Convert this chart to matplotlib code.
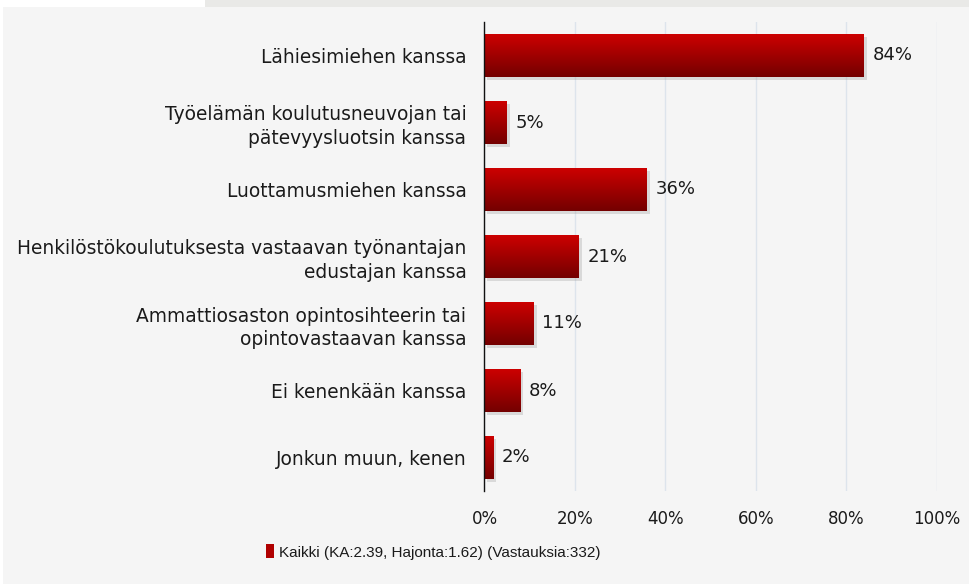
import numpy as np
import matplotlib.pyplot as plt
from matplotlib.patches import Patch, Rectangle
import matplotlib.patheffects as pe
from matplotlib.colors import LinearSegmentedColormap

plt.rcParams['font.family'] = ['DejaVu Sans']

# data
categories = [
    'Lähiesimiehen kanssa',
    'Työelämän koulutusneuvojan tai\npätevyysluotsin kanssa',
    'Luottamusmiehen kanssa',
    'Henkilöstökoulutuksesta vastaavan työnantajan\nedustajan kanssa',
    'Ammattiosaston opintosihteerin tai\nopintovastaavan kanssa',
    'Ei kenenkään kanssa',
    'Jonkun muun, kenen',
]
values = [84, 5, 36, 21, 11, 8, 2]
xticks = [0, 20, 40, 60, 80, 100]
legend_label = 'Kaikki (KA:2.39, Hajonta:1.62) (Vastauksia:332)'

bg = '#f5f5f5'
txt = '#1a1a1a'
grad = LinearSegmentedColormap.from_list('bar', ['#cc0000', '#740000'])

fig = plt.figure(figsize=(9.7, 5.84), dpi=100)
fig.patch.set_facecolor(bg)

# white strips top-left / left and grey band on top
fig.patches.append(Rectangle((0, 1 - 7 / 584), 1, 7 / 584, transform=fig.transFigure,
                             facecolor='#e9e9e7', edgecolor='none', zorder=0))
fig.patches.append(Rectangle((0, 1 - 7 / 584), 205 / 970, 7 / 584, transform=fig.transFigure,
                             facecolor='white', edgecolor='none', zorder=1))
fig.patches.append(Rectangle((0, 0), 3 / 970, 1, transform=fig.transFigure,
                             facecolor='white', edgecolor='none', zorder=1))

ax = fig.add_axes([484.5 / 970, 1 - 491 / 584, 452.2 / 970, 469 / 584])
ax.set_facecolor(bg)

y = np.arange(len(categories))
bars = ax.barh(y, values, height=0.64, color='#a00000', zorder=3)

# gradient fill + soft shadow
gimg = np.linspace(0, 1, 64).reshape(-1, 1)
for b in bars:
    b.set_path_effects([pe.SimplePatchShadow(offset=(2, -2), shadow_rgbFace='#999999', alpha=0.3),
                        pe.Normal()])
    x0, y0 = b.get_x(), b.get_y()
    w, h = b.get_width(), b.get_height()
    im = ax.imshow(gimg, cmap=grad, aspect='auto', extent=(x0, x0 + w, y0 + h, y0),
                   zorder=4, interpolation='bilinear')
    im.set_clip_path(b)

for b, v in zip(bars, values):
    ax.text(b.get_width() + 1.8, b.get_y() + b.get_height() / 2, f'{v}%',
            va='center', ha='left', fontsize=13, color=txt, zorder=5)

ax.set_xlim(0, 100)
ax.set_ylim(len(categories) - 0.5, -0.5)
ax.set_yticks(y)
ax.set_yticklabels(categories, fontsize=13.4, color=txt, linespacing=1.3)
ax.set_xticks(xticks)
ax.set_xticklabels([f'{t}%' for t in xticks], fontsize=12, color=txt)
ax.tick_params(axis='y', length=0, pad=13)
ax.tick_params(axis='x', length=0, pad=14)
ax.grid(axis='x', color='#dde4ec', linewidth=1, zorder=0)
for s in ['top', 'right', 'bottom']:
    ax.spines[s].set_visible(False)
ax.spines['left'].set_color('#111111')
ax.spines['left'].set_linewidth(1)
ax.spines['left'].set_zorder(6)

fig.legend(handles=[Patch(facecolor='#b00000', edgecolor='none')], labels=[legend_label],
           loc='center left', bbox_to_anchor=(252 / 970, 1 - 552 / 584), frameon=False,
           handlelength=0.55, handleheight=1.0, handletextpad=0.3,
           prop={'family': ['Liberation Sans', 'DejaVu Sans'], 'size': 11},
           labelcolor=txt)

fig.savefig('out.png', dpi=100, facecolor=fig.get_facecolor())
